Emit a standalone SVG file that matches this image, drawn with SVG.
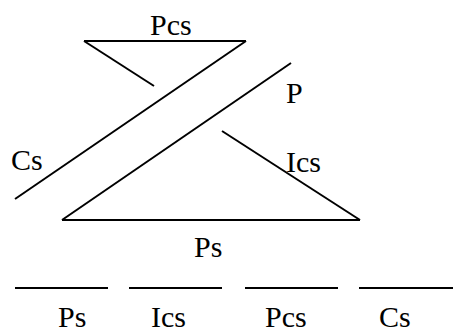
<svg xmlns="http://www.w3.org/2000/svg" width="454" height="331" viewBox="0 0 454 331">
<style>
.ln{stroke:#000;stroke-width:2;fill:none;stroke-linecap:butt}
.t{font-family:"Liberation Serif","Times New Roman",serif;font-size:30px;fill:#000}
</style>
<rect width="454" height="331" fill="#fff"/>
<g id="connectors">
<line class="ln" x1="84" y1="41" x2="246" y2="41"/>
<line class="ln" x1="84" y1="41" x2="154" y2="86"/>
<line class="ln" x1="246" y1="41" x2="15" y2="199"/>
<line class="ln" x1="291" y1="63" x2="62" y2="220"/>
<line class="ln" x1="62" y1="220" x2="360" y2="220"/>
<line class="ln" x1="360" y1="220" x2="222" y2="131"/>
<line class="ln" x1="15" y1="288" x2="108" y2="288"/>
<line class="ln" x1="129" y1="288" x2="222" y2="288"/>
<line class="ln" x1="245" y1="288" x2="338" y2="288"/>
<line class="ln" x1="359" y1="288" x2="453" y2="288"/>
</g>
<g id="labels">
<text class="t" x="150" y="35">Pcs</text>
<text class="t" x="286" y="103">P</text>
<text class="t" x="11" y="170">Cs</text>
<text class="t" x="286" y="172">Ics</text>
<text class="t" x="194" y="257">Ps</text>
<text class="t" x="58" y="327">Ps</text>
<text class="t" x="151" y="327">Ics</text>
<text class="t" x="265" y="327">Pcs</text>
<text class="t" x="379" y="327">Cs</text>
</g>
</svg>
